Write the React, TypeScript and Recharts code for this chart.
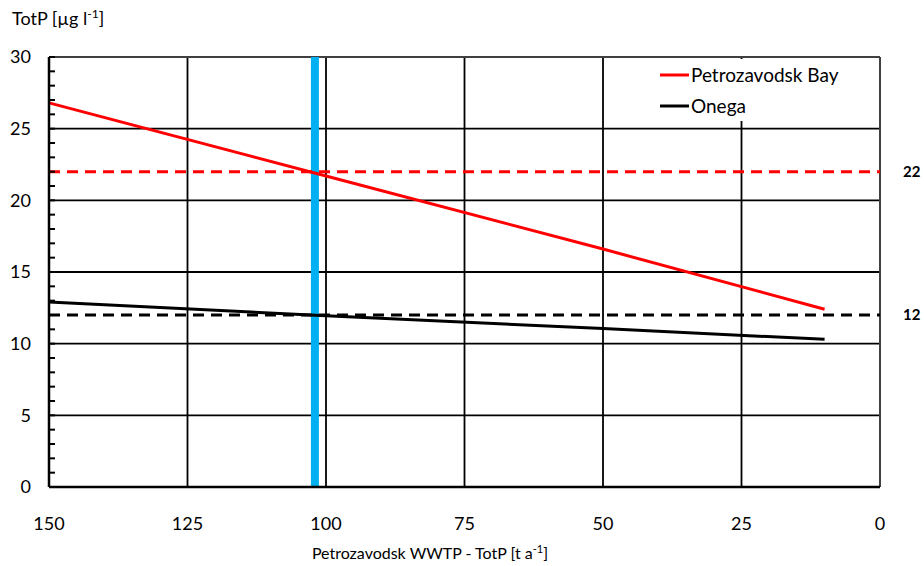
import { LineChart, Line, XAxis, YAxis, ReferenceLine, Legend } from "recharts";

// WWTP load (t/a) and modelled TotP concentration
const loadX = [150, 100, 50, 10];
const bayTotP = [26.8, 21.7, 16.6, 12.4];
const onegaTotP = [12.9, 11.95, 11.05, 10.3];

const seriesNames = ["Petrozavodsk Bay", "Onega"];
const seriesColors = ["#ff0000", "#000000"];

const xTicks = [150, 125, 100, 75, 50, 25, 0];
const yTicks = [
  0, 1, 2, 3, 4, 5, 6, 7, 8, 9, 10, 11, 12, 13, 14, 15, 16, 17, 18, 19, 20,
  21, 22, 23, 24, 25, 26, 27, 28, 29, 30,
];
const gridX = [125, 100, 75, 50, 25];
const gridY = [5, 10, 15, 20, 25];

const bayTarget = 22;
const onegaTarget = 12;
const currentLoad = 102;

const data = loadX.map((x, i) => ({
  x,
  bay: bayTotP[i],
  onega: onegaTotP[i],
}));

const FONT = "Lato, 'Open Sans', sans-serif";
const TICK_MARGIN = 18;

function YTick(props: any) {
  const { x, y, payload } = props;
  const axisX = x + TICK_MARGIN;
  const major = payload.value % 5 === 0;
  return (
    <g>
      <line x1={axisX} x2={axisX + 6} y1={y} y2={y} stroke="#000" strokeWidth={2} />
      {major && (
        <text x={x} y={y} dy="0.36em" textAnchor="end" fontSize={18} fill="#000" fontFamily={FONT}>
          {payload.value}
        </text>
      )}
    </g>
  );
}

function LegendBox() {
  return (
    <div style={{ fontFamily: FONT, fontSize: 19, color: "#000" }}>
      {seriesNames.map((name, i) => (
        <div key={name} style={{ display: "flex", alignItems: "center", height: 31 }}>
          <svg width={31} height={4} style={{ marginRight: 0 }}>
            <line x1={0} x2={29} y1={2} y2={2} stroke={seriesColors[i]} strokeWidth={3} />
          </svg>
          <span>{name}</span>
        </div>
      ))}
    </div>
  );
}

export default function App() {
  return (
    <div style={{ position: "absolute", left: 0, top: 0, width: 924, height: 566, background: "#fff" }}>
      <div style={{ position: "absolute", left: 12, top: 6, fontFamily: FONT, fontSize: 18, color: "#000", zIndex: 2 }}>
        TotP [µg l<sup style={{ fontSize: 12 }}>-1</sup>]
      </div>
      <LineChart
        width={924}
        height={566}
        data={data}
        margin={{ top: 57, right: 44, left: 9, bottom: 39 }}
      >
        <XAxis
          dataKey="x"
          type="number"
          domain={[0, 150]}
          reversed
          ticks={xTicks}
          tickLine={false}
          tickSize={0}
          tickMargin={30}
          height={40}
          axisLine={{ stroke: "#000", strokeWidth: 2.5 }}
          tick={{ fontSize: 18, fill: "#000", fontFamily: FONT }}
        />
        <YAxis
          type="number"
          domain={[0, 30]}
          ticks={yTicks}
          interval={0}
          tickLine={false}
          tickSize={0}
          tickMargin={TICK_MARGIN}
          width={40}
          axisLine={{ stroke: "#000", strokeWidth: 2.5 }}
          tick={<YTick />}
        />
        {gridY.map((v) => (
          <ReferenceLine key={"gy" + v} y={v} stroke="#000" strokeWidth={1.8} />
        ))}
        {gridX.map((v) => (
          <ReferenceLine key={"gx" + v} x={v} stroke="#000" strokeWidth={1.8} />
        ))}
        <ReferenceLine y={30} stroke="#404040" strokeWidth={2} />
        <ReferenceLine x={0} stroke="#404040" strokeWidth={2} />
        <ReferenceLine x={currentLoad} stroke="#00b0f0" strokeWidth={8} />
        <ReferenceLine
          y={bayTarget}
          stroke="#ff0000"
          strokeWidth={3}
          strokeDasharray="11 7"
          label={{ value: String(bayTarget), position: "right", offset: 23, fontSize: 15, fontWeight: 700, fill: "#000", fontFamily: FONT }}
        />
        <ReferenceLine
          y={onegaTarget}
          stroke="#000"
          strokeWidth={3}
          strokeDasharray="11 7"
          label={{ value: String(onegaTarget), position: "right", offset: 23, fontSize: 15, fontWeight: 700, fill: "#000", fontFamily: FONT }}
        />
        <Line dataKey="bay" name={seriesNames[0]} stroke={seriesColors[0]} strokeWidth={3} dot={false} isAnimationActive={false} />
        <Line dataKey="onega" name={seriesNames[1]} stroke={seriesColors[1]} strokeWidth={3} dot={false} isAnimationActive={false} />
        <Legend
          layout="vertical"
          align="center"
          verticalAlign="middle"
          content={() => <LegendBox />}
          wrapperStyle={{ left: 660, top: 59, width: 200, height: 62, background: "#fff" }}
        />
      </LineChart>
      <div style={{ position: "absolute", left: 0, width: 860, top: 542, textAlign: "center", fontFamily: FONT, fontSize: 16, color: "#000" }}>
        Petrozavodsk WWTP - TotP [t a<sup style={{ fontSize: 11 }}>-1</sup>]
      </div>
    </div>
  );
}
